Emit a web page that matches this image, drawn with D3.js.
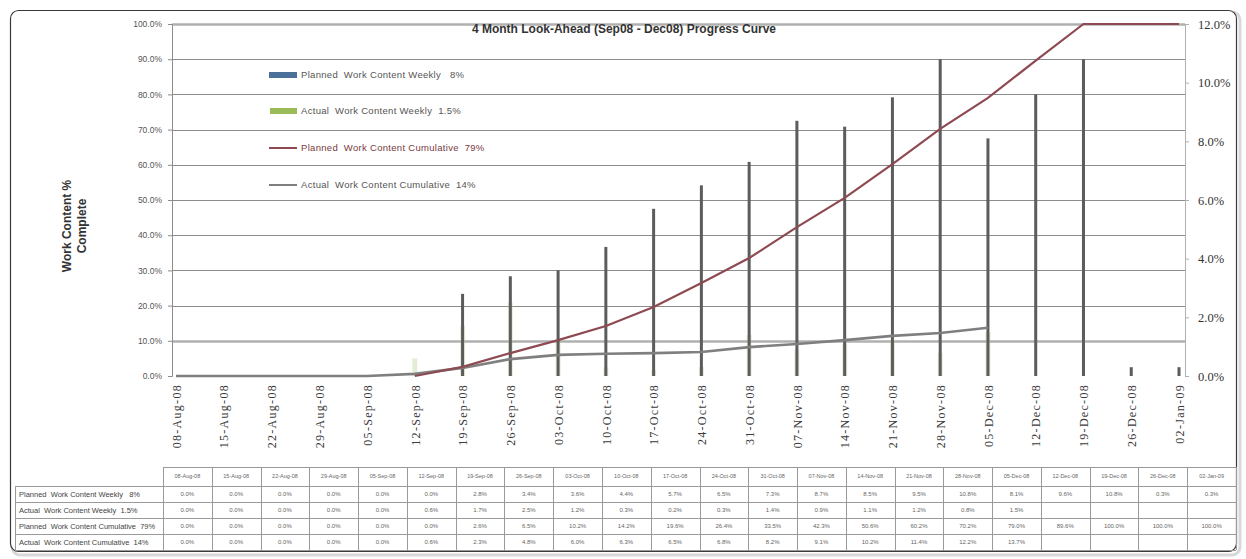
<!DOCTYPE html>
<html>
<head>
<meta charset="utf-8">
<script src="https://cdn.jsdelivr.net/npm/d3@7"></script>
<style>
  html, body { margin: 0; padding: 0; background: #fff; }
  svg { display: block; }
  text { white-space: pre; }
</style>
</head>
<body>
<svg id="chart" width="1246" height="559"></svg>
<script>
// Weekly dates on the category axis
const categories = [
  "08-Aug-08", "15-Aug-08", "22-Aug-08", "29-Aug-08", "05-Sep-08", "12-Sep-08",
  "19-Sep-08", "26-Sep-08", "03-Oct-08", "10-Oct-08", "17-Oct-08", "24-Oct-08",
  "31-Oct-08", "07-Nov-08", "14-Nov-08", "21-Nov-08", "28-Nov-08", "05-Dec-08",
  "12-Dec-08", "19-Dec-08", "26-Dec-08", "02-Jan-09"
];

// Weekly work content (%), read against the right axis
const plannedWeekly = [0, 0, 0, 0, 0, 0, 2.8, 3.4, 3.6, 4.4, 5.7, 6.5, 7.3, 8.7, 8.5, 9.5, 10.8, 8.1, 9.6, 10.8, 0.3, 0.3];
const actualWeekly  = [0, 0, 0, 0, 0, 0.6, 1.7, 2.5, 1.2, 0.3, 0.2, 0.3, 1.4, 0.9, 1.1, 1.2, 0.8, 1.5, null, null, null, null];

// Cumulative work content (%), read against the left axis
const plannedCumulative = [0, 0, 0, 0, 0, 0, 2.6, 6.5, 10.2, 14.2, 19.6, 26.4, 33.5, 42.3, 50.6, 60.2, 70.2, 79.0, 89.6, 100, 100, 100];
const actualCumulative  = [0, 0, 0, 0, 0, 0.6, 2.3, 4.8, 6.0, 6.3, 6.5, 6.8, 8.2, 9.1, 10.2, 11.4, 12.2, 13.7, null, null, null, null];

// Axis ticks
const leftTicks  = [0, 10, 20, 30, 40, 50, 60, 70, 80, 90, 100];
const rightTicks = [0, 2, 4, 6, 8, 10, 12];

// Series names as shown in the legend and the data table
const seriesLabels = [
  "Planned  Work Content Weekly   8%",
  "Actual  Work Content Weekly  1.5%",
  "Planned  Work Content Cumulative  79%",
  "Actual  Work Content Cumulative  14%"
];
const chartTitle = "4 Month Look-Ahead (Sep08 - Dec08) Progress Curve";
const yTitle = ["Work Content %", "Complete"];

const svg = d3.select("#chart");

// Outer chart frame
svg.append("rect")
  .attr("x", 12).attr("y", 12).attr("width", 1228).attr("height", 543)
  .attr("rx", 8).attr("fill", "none").attr("stroke", "#d8d8d8").attr("stroke-width", 3);
svg.append("rect")
  .attr("x", 10.5).attr("y", 10.5).attr("width", 1226).attr("height", 541)
  .attr("rx", 8).attr("fill", "#fff").attr("stroke", "#3a3a3a").attr("stroke-width", 1.2);

const plot = { left: 172, right: 1185, top: 24, bottom: 376 };

const x = d3.scalePoint().domain(categories).range([176, 1179]);
const yL = d3.scaleLinear().domain([0, 100]).range([plot.bottom, plot.top]);
const yR = d3.scaleLinear().domain([0, 12]).range([plot.bottom, plot.top]);

// Horizontal gridlines from the left axis
svg.append("g").selectAll("line")
  .data(leftTicks.filter(d => d > 0))
  .join("line")
  .attr("x1", plot.left).attr("x2", plot.right)
  .attr("y1", d => Math.round(yL(d)) + 0.5).attr("y2", d => Math.round(yL(d)) + 0.5)
  .attr("stroke", d => (d === 10 || d === 100) ? "#b0b0b0" : "#8c8c8c")
  .attr("stroke-width", d => (d === 10 || d === 100) ? 2.5 : 1);

// Left axis
const leftAxis = svg.append("g")
  .attr("transform", `translate(${plot.left},0)`)
  .call(d3.axisLeft(yL).tickValues(leftTicks).tickSize(4).tickFormat(d => d.toFixed(1) + "%"));
leftAxis.select(".domain").attr("stroke", "#8c8c8c");
leftAxis.selectAll(".tick line").attr("stroke", "#8c8c8c");
leftAxis.selectAll("text")
  .attr("x", -10)
  .attr("fill", "#555").attr("font-family", "Liberation Sans, Arial, sans-serif").attr("font-size", 8.5);

// Right axis
const rightAxis = svg.append("g")
  .attr("transform", `translate(${plot.right},0)`)
  .call(d3.axisRight(yR).tickValues(rightTicks).tickSize(4).tickFormat(d => d.toFixed(1) + "%"));
rightAxis.select(".domain").attr("stroke", "#b0b0b0");
rightAxis.selectAll(".tick line").attr("stroke", "#b0b0b0");
rightAxis.selectAll("text")
  .attr("x", 13)
  .attr("fill", "#333").attr("font-family", "Liberation Serif, Times New Roman, serif").attr("font-size", 12.5);

// Bottom category axis
const bottomAxis = svg.append("g")
  .attr("transform", `translate(0,${plot.bottom})`)
  .call(d3.axisBottom(x).tickSize(0));
bottomAxis.select(".domain").remove();
bottomAxis.selectAll("text")
  .attr("transform", "rotate(-90)")
  .attr("text-anchor", "end")
  .attr("x", -8).attr("y", 0).attr("dy", "0.35em")
  .attr("fill", "#3a3a3a").attr("font-family", "Liberation Serif, Times New Roman, serif")
  .attr("font-size", 12).attr("letter-spacing", 1.3);

// Weekly bars (right axis)
const weekly = categories.map((c, i) => ({ c, planned: plannedWeekly[i], actual: actualWeekly[i] }));
svg.append("g").selectAll("rect")
  .data(weekly.filter(d => d.actual))
  .join("rect")
  .attr("x", d => x(d.c) - 2.5).attr("width", 5)
  .attr("y", d => yR(d.actual)).attr("height", d => yR(0) - yR(d.actual))
  .attr("fill", "#b5c98a").attr("opacity", 0.35);
svg.append("g").selectAll("rect")
  .data(weekly.filter(d => d.planned))
  .join("rect")
  .attr("x", d => x(d.c) - 1.5).attr("width", 3)
  .attr("y", d => yR(d.planned)).attr("height", d => yR(0) - yR(d.planned))
  .attr("fill", "#5c5c5c");

// Cumulative lines (left axis)
const line = d3.line()
  .defined(d => d.v !== null)
  .x(d => x(d.c)).y(d => yL(d.v));
svg.append("path")
  .datum(categories.map((c, i) => ({ c, v: actualCumulative[i] })))
  .attr("d", line).attr("fill", "none")
  .attr("stroke", "#7f7f7f").attr("stroke-width", 2.6);
svg.append("path")
  .datum(categories.map((c, i) => ({ c, v: plannedCumulative[i] })).filter(d => x(d.c) >= x("12-Sep-08")))
  .attr("d", line).attr("fill", "none")
  .attr("stroke", "#8e4a52").attr("stroke-width", 2.2);

// Legend inside the plot area
const legendY = [75, 111, 148, 185];
const legend = svg.append("g").attr("font-family", "Liberation Sans, Arial, sans-serif").attr("font-size", 9.5);
legend.append("rect").attr("x", 269).attr("y", legendY[0] - 3).attr("width", 28).attr("height", 6).attr("fill", "#4a6f98");
legend.append("rect").attr("x", 270).attr("y", legendY[1] - 3).attr("width", 27).attr("height", 6).attr("fill", "#9bbb59");
legend.append("line").attr("x1", 269).attr("x2", 297).attr("y1", legendY[2]).attr("y2", legendY[2]).attr("stroke", "#8e4a52").attr("stroke-width", 2);
legend.append("line").attr("x1", 269).attr("x2", 297).attr("y1", legendY[3]).attr("y2", legendY[3]).attr("stroke", "#7f7f7f").attr("stroke-width", 2);
legend.selectAll("text")
  .data(seriesLabels)
  .join("text")
  .attr("x", 301).attr("y", (d, i) => legendY[i]).attr("dy", "0.35em")
  .attr("fill", (d, i) => i === 2 ? "#7a3a40" : "#555")
  .attr("letter-spacing", 0.3)
  .text(d => d);

// Title
svg.append("text")
  .attr("x", 624).attr("y", 29).attr("dy", "0.35em").attr("text-anchor", "middle")
  .attr("font-family", "Liberation Sans, Arial, sans-serif").attr("font-weight", "bold")
  .attr("font-size", 12).attr("fill", "#333")
  .text(chartTitle);

// Left axis title
const yt = svg.append("g").attr("transform", "translate(0,226) rotate(-90)");
yt.selectAll("text")
  .data(yTitle)
  .join("text")
  .attr("x", 0).attr("y", (d, i) => 71 + i * 15).attr("text-anchor", "middle")
  .attr("font-family", "Liberation Sans, Arial, sans-serif").attr("font-weight", "bold")
  .attr("font-size", 12).attr("fill", "#333")
  .text(d => d);

// Data table beneath the chart
const tbl = { left: 163, right: 1236, headTop: 467, headBottom: 486, rowH: 16, labelLeft: 15 };
const col = d3.scaleBand().domain(categories).range([tbl.left, tbl.right]);
const rows = [plannedWeekly, actualWeekly, plannedCumulative, actualCumulative];
const fmt = v => (v === null || v === undefined) ? "" : v.toFixed(1) + "%";
const table = svg.append("g").attr("font-family", "Liberation Sans, Arial, sans-serif");
const tableBottom = tbl.headBottom + rows.length * tbl.rowH;

// table rules
table.append("line").attr("x1", tbl.left).attr("x2", tbl.right).attr("y1", tbl.headTop + 0.5).attr("y2", tbl.headTop + 0.5).attr("stroke", "#9a9a9a");
d3.range(rows.length + 1).forEach(r => {
  const yy = tbl.headBottom + r * tbl.rowH + 0.5;
  table.append("line").attr("x1", tbl.labelLeft).attr("x2", tbl.right).attr("y1", yy).attr("y2", yy).attr("stroke", "#9a9a9a");
});
table.append("line").attr("x1", tbl.labelLeft + 0.5).attr("x2", tbl.labelLeft + 0.5).attr("y1", tbl.headBottom).attr("y2", tableBottom).attr("stroke", "#9a9a9a");
table.selectAll("line.col")
  .data(categories.concat(["end"]))
  .join("line").attr("class", "col")
  .attr("x1", (d, i) => Math.round(tbl.left + i * col.bandwidth()) + 0.5)
  .attr("x2", (d, i) => Math.round(tbl.left + i * col.bandwidth()) + 0.5)
  .attr("y1", tbl.headTop).attr("y2", tableBottom)
  .attr("stroke", "#9a9a9a");

// header dates
table.selectAll("text.head")
  .data(categories)
  .join("text").attr("class", "head")
  .attr("x", d => col(d) + col.bandwidth() / 2).attr("y", (tbl.headTop + tbl.headBottom) / 2).attr("dy", "0.35em")
  .attr("text-anchor", "middle").attr("font-size", 5.5).attr("fill", "#666")
  .text(d => d);

// row labels
table.selectAll("text.rowlabel")
  .data(seriesLabels)
  .join("text").attr("class", "rowlabel")
  .attr("x", tbl.labelLeft + 4).attr("y", (d, i) => tbl.headBottom + i * tbl.rowH + tbl.rowH / 2).attr("dy", "0.35em")
  .attr("font-size", 7.5).attr("fill", "#444")
  .text(d => d);

// cell values
rows.forEach((vals, r) => {
  table.append("g").selectAll("text")
    .data(categories.map((c, i) => ({ c, v: vals[i] })))
    .join("text")
    .attr("x", d => col(d.c) + col.bandwidth() / 2)
    .attr("y", tbl.headBottom + r * tbl.rowH + tbl.rowH / 2).attr("dy", "0.35em")
    .attr("text-anchor", "middle").attr("font-size", 6).attr("fill", "#666")
    .text(d => fmt(d.v));
});
</script>
</body>
</html>
